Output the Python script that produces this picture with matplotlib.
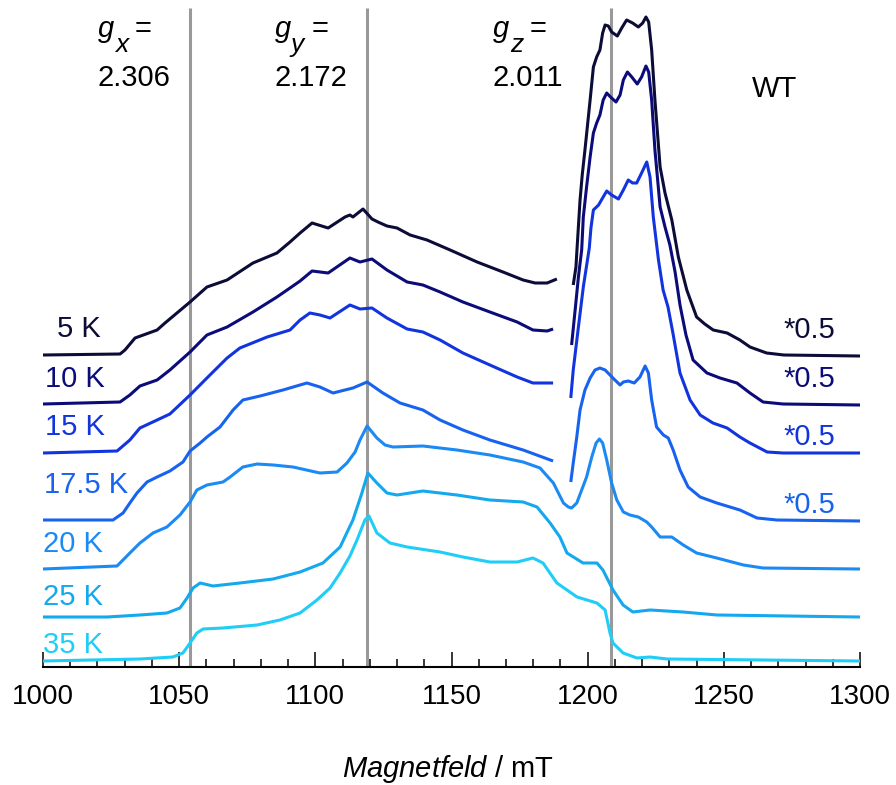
import numpy as np
import matplotlib.pyplot as plt
from matplotlib.ticker import MultipleLocator

plt.rcParams['font.family'] = ['Liberation Sans', 'DejaVu Sans']
plt.rcParams['mathtext.fontset'] = 'custom'
plt.rcParams['mathtext.rm'] = 'Liberation Sans'
plt.rcParams['mathtext.it'] = 'Liberation Sans:italic'

nan = np.nan

# EPR spectra (mT, arb. units above each trace's own baseline); NaN = break before the *0.5 part
field_5K = [1000, 1028.3, 1030.1, 1033.8, 1041.9, 1044.8, 1054.0, 1060.2, 1067.6, 1077.1,
            1085.9, 1090.7, 1094.4, 1098.8, 1104.7, 1110.9, 1112.7, 1113.8, 1117.5, 1120.8,
            1123.0, 1126.3, 1130.0, 1134.8, 1141.0, 1149.5, 1159.4, 1168.9, 1176.3, 1180.7,
            1185.1, 1188.7, nan,
            1194.7, 1195.7, 1196.0, 1197.2, 1198.0, 1199.0, 1200.9, 1202.1, 1203.3, 1204.5,
            1205.5, 1206.4, 1207.6, 1208.8, 1210.9, 1212.5, 1214.3, 1216.5, 1218.6, 1220.2,
            1221.4, 1222.4, 1223.5, 1224.7, 1226.6, 1228.4, 1230.9, 1233.3, 1236.4, 1240.0,
            1243.0, 1246.1, 1251.2, 1255.9, 1259.6, 1265.7, 1272.0, 1300]
int_5K = [0, 1, 5, 17, 25, 32, 53, 68, 75, 92,
          102, 113, 122, 132, 127, 138, 140, 138, 146, 136,
          133, 129, 127, 120, 115, 105, 93, 83, 75, 72,
          72, 76, nan,
          70, 88, 102, 155, 180, 205, 255, 288, 298, 305,
          322, 330, 329, 323, 319, 327, 335, 332, 328, 332,
          338, 333, 305, 255, 188, 162, 135, 98, 65, 38,
          31, 25, 22, 15, 8, 2, 0, -1]

field_10K = [1000, 1028.3, 1031.9, 1035.6, 1041.9, 1046.6, 1054.0, 1060.2, 1067.6, 1077.1,
             1085.9, 1090.7, 1094.4, 1098.8, 1104.7, 1112.7, 1116.4, 1120.8, 1126.3, 1133.7,
             1139.5, 1145.8, 1154.2, 1164.1, 1174.1, 1179.9, 1185.1, 1187.3, nan,
             1194.1, 1195.4, 1196.6, 1197.8, 1198.4, 1199.6, 1200.9, 1202.1, 1203.3, 1204.5,
             1205.7, 1207.0, 1208.4, 1210.4, 1211.9, 1213.1, 1214.6, 1216.2, 1218.2, 1219.8,
             1221.4, 1222.4, 1223.5, 1224.7, 1226.6, 1228.4, 1230.2, 1232.1, 1233.9, 1236.1,
             1238.7, 1243.8, 1248.6, 1254.8, 1259.6, 1264.4, 1271.7, 1300]
int_10K = [0, 2, 9, 18, 24, 34, 52, 69, 77, 92,
           107, 116, 123, 133, 131, 146, 142, 145, 134, 122,
           119, 112, 102, 92, 82, 74, 73, 75, nan,
           59, 94, 127, 154, 187, 217, 247, 271, 281, 289,
           304, 311, 307, 302, 309, 324, 332, 327, 320, 327,
           338, 332, 304, 254, 197, 177, 159, 132, 99, 69,
           44, 31, 26, 21, 11, 2, 0, -1]

field_15K = [1000, 1027.2, 1031.9, 1035.6, 1041.9, 1046.6, 1054.0, 1060.2, 1065.0, 1067.6,
             1072.3, 1082.3, 1090.7, 1094.4, 1098.0, 1101.7, 1105.4, 1112.7, 1116.4, 1120.8,
             1126.3, 1133.7, 1139.5, 1145.8, 1154.2, 1164.1, 1174.1, 1179.9, 1187.3, nan,
             1193.8, 1194.7, 1196.6, 1198.4, 1200.6, 1201.2, 1202.1, 1204.0, 1205.7, 1207.0,
             1208.8, 1211.3, 1213.1, 1214.9, 1216.5, 1218.0, 1219.8, 1221.7, 1222.9, 1224.1,
             1226.0, 1227.7, 1229.5, 1231.3, 1233.9, 1237.6, 1241.3, 1246.0, 1251.2, 1255.9,
             1259.6, 1265.9, 1271.7, 1300]
int_15K = [0, 2, 13, 25, 33, 39, 58, 75, 88, 95,
           105, 116, 123, 133, 140, 138, 135, 148, 144, 145,
           135, 124, 121, 113, 100, 88, 76, 70, 70, nan,
           55, 83, 126, 166, 205, 225, 243, 248, 256, 262,
           258, 254, 263, 273, 270, 270, 280, 291, 276, 236,
           193, 163, 146, 120, 80, 53, 38, 30, 25, 16,
           10, 1, 0, 0]

field_17K = [1000, 1025.7, 1029.4, 1031.9, 1034.5, 1038.2, 1041.9, 1046.6, 1051.4, 1054.0,
             1057.7, 1060.2, 1065.0, 1069.8, 1073.4, 1079.7, 1088.1, 1096.9, 1101.7, 1106.5,
             1113.8, 1119.0, 1124.8, 1131.1, 1139.5, 1145.8, 1154.2, 1164.1, 1176.3, 1187.3,
             nan,
             1193.8, 1194.7, 1196.0, 1197.2, 1199.0, 1200.9, 1202.7, 1204.5, 1206.4, 1208.2,
             1210.0, 1211.9, 1213.1, 1214.9, 1217.1, 1219.2, 1221.1, 1222.3, 1223.5, 1225.3,
             1227.8, 1229.6, 1231.4, 1233.9, 1236.9, 1241.3, 1247.4, 1255.9, 1262.2, 1269.5,
             1300]
int_17K = [0, 0, 7, 17, 27, 38, 43, 49, 58, 69,
           77, 83, 93, 110, 120, 124, 130, 137, 133, 127,
           132, 138, 127, 117, 110, 100, 90, 80, 70, 59,
           nan,
           38, 57, 83, 110, 130, 142, 150, 152, 150, 145,
           140, 135, 138, 139, 137, 143, 154, 147, 120, 93,
           85, 82, 70, 50, 33, 23, 17, 10, 2, 0,
           -1]

field_20K = [1000, 1027.2, 1031.9, 1035.6, 1040.4, 1045.5, 1050.3, 1054.0, 1056.5, 1060.2,
             1066.1, 1068.7, 1073.4, 1078.6, 1084.5, 1091.8, 1101.7, 1108.0, 1111.6, 1114.6,
             1116.4, 1119.0, 1122.6, 1125.6, 1128.5, 1139.5, 1152.0, 1164.1, 1176.3, 1182.5,
             1187.4, 1191.1, 1192.9, 1194.1, 1196.0, 1197.8, 1199.6, 1201.5, 1203.1, 1204.3,
             1205.5, 1207.0, 1208.8, 1210.7, 1213.1, 1215.5, 1218.6, 1221.7, 1223.5, 1226.6,
             1230.9, 1235.1, 1240.0, 1247.4, 1257.2, 1264.4, 1300]
int_20K = [0, 3, 16, 26, 36, 42, 54, 67, 79, 84,
           87, 92, 102, 105, 104, 102, 96, 97, 106, 117,
           129, 143, 131, 124, 122, 123, 119, 114, 107, 101,
           86, 66, 62, 61, 66, 79, 92, 112, 126, 130,
           126, 109, 86, 69, 57, 54, 52, 47, 42, 32,
           32, 24, 16, 11, 4, 1, 0]

field_25K = [1000, 1023.5, 1035.6, 1045.5, 1050.3, 1052.9, 1055.1, 1057.7, 1062.4, 1072.3,
             1084.5, 1094.4, 1102.8, 1109.1, 1113.8, 1117.1, 1119.3, 1122.6, 1126.3, 1130.0,
             1139.5, 1152.0, 1164.1, 1176.3, 1181.4, 1186.2, 1189.8, 1192.4, 1198.3, 1203.4,
             1205.6, 1209.3, 1213.0, 1216.6, 1222.9, 1235.0, 1247.5, 1300]
int_25K = [0, 0, 2, 4, 9, 19, 29, 34, 31, 34,
           38, 45, 54, 70, 97, 124, 144, 134, 124, 122,
           126, 122, 117, 115, 110, 94, 80, 64, 54, 54,
           47, 27, 12, 5, 7, 5, 2, 0]

field_35K = [1000, 1035.6, 1047.7, 1051.4, 1054.0, 1056.5, 1058.8, 1066.1, 1078.6, 1087.0,
             1094.4, 1100.6, 1105.4, 1109.1, 1112.7, 1115.3, 1118.2, 1119.7, 1122.6, 1127.4,
             1133.7, 1145.8, 1154.2, 1164.1, 1174.1, 1179.9, 1183.6, 1188.7, 1196.1, 1203.4,
             1206.4, 1208.2, 1209.3, 1213.0, 1218.1, 1222.9, 1229.1, 1300]
int_35K = [0, 2, 4, 8, 18, 28, 32, 33, 36, 41,
           48, 61, 73, 88, 105, 121, 141, 145, 128, 118,
           114, 109, 104, 99, 99, 103, 98, 78, 64, 58,
           51, 28, 18, 8, 3, 4, 2, 0]

temps = ["5 K", "10 K", "15 K", "17.5 K", "20 K", "25 K", "35 K"]
fields = [field_5K, field_10K, field_15K, field_17K, field_20K, field_25K, field_35K]
intensities = [int_5K, int_10K, int_15K, int_17K, int_20K, int_25K, int_35K]
offsets = [312, 263, 214, 147, 98, 50, 6]
colors = ["#0c0c38", "#0b0b7a", "#1234de", "#1763f0", "#1b8af4", "#14a8ee", "#1fcdf6"]
scale_note = ["*0.5", "*0.5", "*0.5", "*0.5", None, None, None]

# g values and Q-band frequency -> resonance fields
g_values = [2.306, 2.172, 2.011]
g_names = ["x", "y", "z"]
mw_freq = 34.02e9  # Hz
h_over_muB = 6.62607e-34 / 9.27401e-24  # T/Hz
g_fields = [h_over_muB * mw_freq / g * 1e3 for g in g_values]

fig = plt.figure(figsize=(8.96, 7.85), dpi=100)
ax = fig.add_axes([43 / 896, 118 / 785, 817 / 896, 667 / 785])
ax.set_xlim(1000, 1300)
ax.set_ylim(0, 667)

for b in g_fields:
    ax.vlines(b, 0, 659, color="#999999", lw=2.2, zorder=1)

for f, s, off, c in zip(fields, intensities, offsets, colors):
    ax.plot(f, np.array(s, dtype=float) + off, color=c, lw=2.2, zorder=2,
            solid_joinstyle="round", solid_capstyle="butt")

# temperature labels on the left
label_pos = [(1005.1, 330), (1000.7, 280), (1000.7, 232), (1000.4, 174),
             (1000.0, 115), (1000.0, 62), (1000.0, 14)]
for t, (x, y), c in zip(temps, label_pos, colors):
    ax.text(x, y, t, color=c, fontsize=21, ha="left", va="baseline")

# scaling notes on the right
note_y = [329, 280, 222, 154]
for n, y, c in zip(scale_note, note_y, colors):
    if n:
        ax.text(1271.8, y, n, color=c, fontsize=21, ha="left", va="baseline")

ax.text(1260.3, 570, "WT", fontsize=21, ha="left", va="baseline")

# g_i = value labels: italic g, large lowered subscript, then the value below
g_sym_x = [1020.2, 1085.2, 1165.2]
g_sub_x = [1026.4, 1090.7, 1171.5]
g_eq_x = [1033.8, 1098.8, 1178.8]
for gx, sx, ex, name, g in zip(g_sym_x, g_sub_x, g_eq_x, g_names, g_values):
    ax.text(gx, 630, "g", fontsize=21, style="italic", ha="left", va="baseline")
    ax.text(sx, 615, name, fontsize=19, style="italic", ha="left", va="baseline")
    ax.text(ex, 630, "=", fontsize=21, ha="left", va="baseline")
    ax.text(gx - 0.3, 581, f"{g:.3f}", fontsize=21, ha="left", va="baseline")

for side in ["left", "right", "top"]:
    ax.spines[side].set_visible(False)
ax.spines["bottom"].set_linewidth(1.5)
ax.set_yticks([])
ax.xaxis.set_major_locator(MultipleLocator(50))
ax.xaxis.set_minor_locator(MultipleLocator(10))
ax.tick_params(axis="x", which="major", direction="in", length=11, width=1.1,
               pad=12, labelsize=20)
ax.tick_params(axis="x", which="minor", direction="in", length=5.5, width=1.1)

ax.set_xlabel(r"$\it{Magnetfeld}$ / mT", fontsize=21)
ax.xaxis.label.set_va("baseline")
ax.xaxis.set_label_coords(0.495, -0.165)

fig.savefig("out.png", dpi=100)
